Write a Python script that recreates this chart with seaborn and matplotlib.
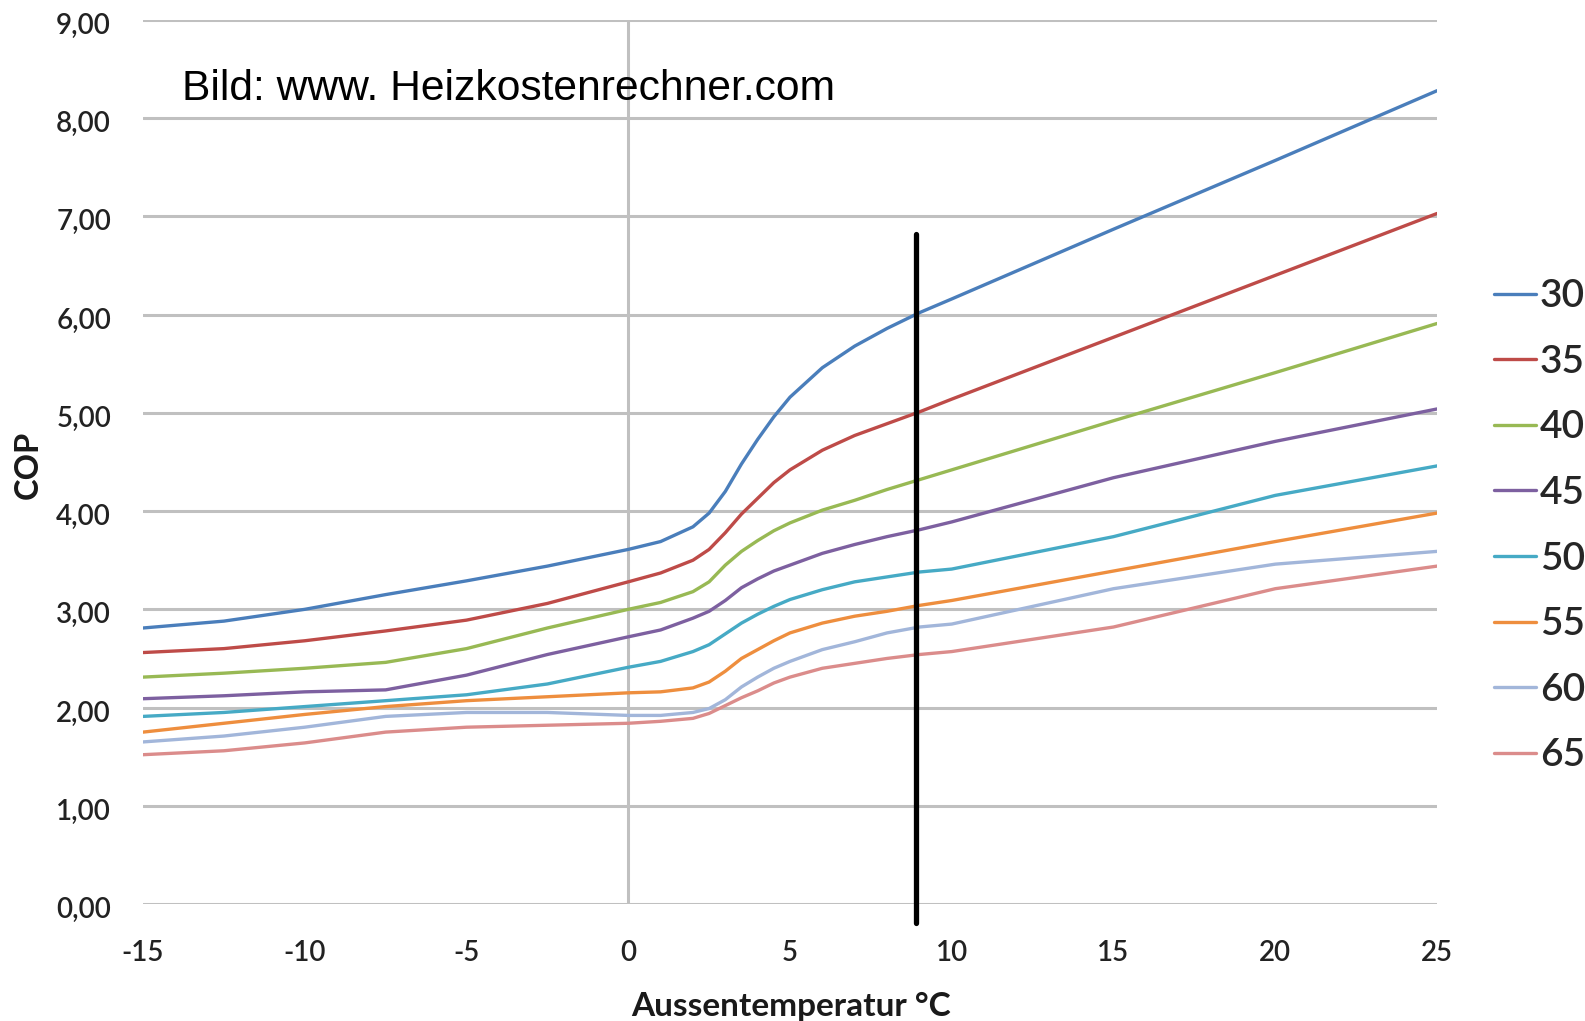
# COP of a heat pump vs. outside temperature for several flow temperatures
import pandas as pd
import matplotlib.pyplot as plt
import seaborn as sns
from matplotlib.ticker import FuncFormatter
from matplotlib.transforms import ScaledTranslation

# Outside temperature (°C) at which the curves were read
temps = [-15, -12.5, -10, -7.5, -5, -2.5, 0, 1, 2, 2.5, 3, 3.5, 4, 4.5, 5, 6, 7, 8, 9, 10, 15, 20, 25]

# COP per flow temperature
cop_30 = [2.81, 2.88, 3.00, 3.15, 3.29, 3.44, 3.61, 3.69, 3.84, 3.98, 4.20, 4.48, 4.73, 4.96, 5.16, 5.46, 5.68, 5.86, 6.02, 6.16, 6.87, 7.57, 8.28]
cop_35 = [2.56, 2.60, 2.68, 2.78, 2.89, 3.06, 3.28, 3.37, 3.50, 3.61, 3.78, 3.97, 4.13, 4.29, 4.42, 4.62, 4.77, 4.89, 5.01, 5.14, 5.77, 6.40, 7.03]
cop_40 = [2.31, 2.35, 2.40, 2.46, 2.60, 2.81, 3.00, 3.07, 3.18, 3.28, 3.45, 3.59, 3.70, 3.80, 3.88, 4.01, 4.11, 4.22, 4.32, 4.42, 4.92, 5.41, 5.91]
cop_45 = [2.09, 2.12, 2.16, 2.18, 2.33, 2.54, 2.72, 2.79, 2.91, 2.98, 3.09, 3.22, 3.31, 3.39, 3.45, 3.57, 3.66, 3.74, 3.81, 3.89, 4.34, 4.71, 5.04]
cop_50 = [1.91, 1.95, 2.01, 2.07, 2.13, 2.24, 2.41, 2.47, 2.57, 2.64, 2.75, 2.86, 2.95, 3.03, 3.10, 3.20, 3.28, 3.33, 3.38, 3.41, 3.74, 4.16, 4.46]
cop_55 = [1.75, 1.84, 1.93, 2.01, 2.07, 2.11, 2.15, 2.16, 2.20, 2.26, 2.37, 2.50, 2.59, 2.68, 2.76, 2.86, 2.93, 2.98, 3.04, 3.09, 3.39, 3.69, 3.98]
cop_60 = [1.65, 1.71, 1.80, 1.91, 1.95, 1.95, 1.92, 1.92, 1.95, 1.99, 2.08, 2.21, 2.31, 2.40, 2.47, 2.59, 2.67, 2.76, 2.82, 2.85, 3.21, 3.46, 3.59]
cop_65 = [1.52, 1.56, 1.64, 1.75, 1.80, 1.82, 1.84, 1.86, 1.89, 1.94, 2.02, 2.10, 2.17, 2.25, 2.31, 2.40, 2.45, 2.50, 2.54, 2.57, 2.82, 3.21, 3.44]

flow_temps = ['30', '35', '40', '45', '50', '55', '60', '65']
colors = ['#4A7EBB', '#BE4B48', '#98B954', '#7D60A0', '#46AAC5', '#EE8E3E', '#A2B6DA', '#DB8C8B']

# marked operating point
marker_temp = 8.9
marker_bottom = -0.19
marker_top = 6.82

rows = []
for name, vals in zip(flow_temps, [cop_30, cop_35, cop_40, cop_45, cop_50, cop_55, cop_60, cop_65]):
    for t, v in zip(temps, vals):
        rows.append({'Aussentemperatur': t, 'COP': v, 'Vorlauf': name})
df = pd.DataFrame(rows)

sns.set_style('white')
plt.rcParams['font.family'] = ['Lato', 'DejaVu Sans']
plt.rcParams['axes.unicode_minus'] = False

fig = plt.figure(figsize=(15.85, 10.21), dpi=100)
ax = fig.add_axes([143 / 1585, 1 - 904 / 1021, 1294 / 1585, 884 / 1021])

# grid
for yv in range(0, 10):
    ax.axhline(yv, color='#C0C0C0', lw=2.2, zorder=0)
ax.axvline(0, color='#C0C0C0', lw=2.2, zorder=0)

sns.lineplot(data=df, x='Aussentemperatur', y='COP', hue='Vorlauf', palette=colors,
             estimator=None, sort=False, lw=2.4, ax=ax)

ax.plot([marker_temp, marker_temp], [marker_bottom, marker_top], color='black', lw=3.8,
        clip_on=False, zorder=5)

ax.set_xlim(-15, 25)
ax.set_ylim(0, 9)
ax.set_xticks(range(-15, 26, 5))
ax.set_yticks(range(0, 10))
ax.yaxis.set_major_formatter(FuncFormatter(lambda v, p: f'{v:.2f}'.replace('.', ',')))
ax.tick_params(axis='both', length=0, labelsize=20, labelcolor='#222222')
ax.tick_params(axis='x', pad=26)
ax.tick_params(axis='y', pad=23)
for lab in ax.get_xticklabels() + ax.get_yticklabels():
    lab.set_fontweight('semibold')
for lab in ax.get_yticklabels():
    lab.set_transform(lab.get_transform() + ScaledTranslation(0, -0.035, fig.dpi_scale_trans))
for s in ax.spines.values():
    s.set_visible(False)

ax.set_xlabel('Aussentemperatur °C', fontsize=24, fontweight='bold', color='#1a1a1a')
ax.set_ylabel('COP', fontsize=23.5, fontweight='bold', color='#1a1a1a')
ax.xaxis.label.set_va('center')
ax.yaxis.label.set_va('center')
ax.xaxis.set_label_coords((791 - 143) / 1294, (904 - 1006) / 884)
ax.yaxis.set_label_coords((28 - 143) / 1294, (904 - 465) / 884)

handles, labels = ax.get_legend_handles_labels()
ax.legend(handles, labels, loc='center left', bbox_to_anchor=(1494 / 1585, 0.485),
          bbox_transform=fig.transFigure, frameon=False,
          prop={'size': 28, 'weight': 'semibold'},
          handlelength=1.08, handletextpad=0.1, labelspacing=0.76,
          borderpad=0, borderaxespad=0, title=None)

fig.text(182 / 1585, 1 - 89 / 1021, 'Bild: www. Heizkostenrechner.com', fontsize=30.7,
         family='Liberation Sans', color='black', va='center', ha='left')

plt.savefig('out.png', dpi=100)
